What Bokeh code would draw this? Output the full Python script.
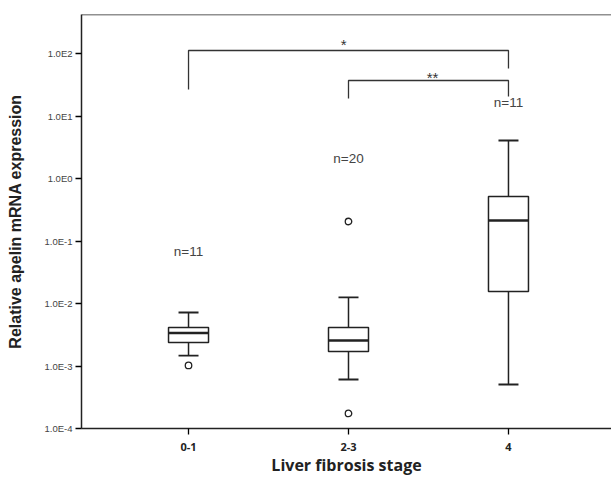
from bokeh.plotting import figure
from bokeh.models import FixedTicker, Span, Range1d
from bokeh.core.properties import value
from bokeh.embed import file_html
from bokeh.resources import INLINE

# ---- data ----
stages = ["0-1", "2-3", "4"]
positions = [1, 2, 3]
q1 = [0.00238, 0.00171, 0.0156]
median = [0.00337, 0.00256, 0.213]
q3 = [0.00413, 0.00413, 0.515]
whisker_low = [0.00147, 0.000608, 0.000506]
whisker_high = [0.00718, 0.0125, 4.06]
outlier_x = [1, 2, 2]
outlier_y = [0.00102, 0.205, 0.000174]
n_labels = ["n=11", "n=20", "n=11"]
n_label_y = [0.068, 2.09, 16.4]
y_ticks = [1e-4, 1e-3, 1e-2, 1e-1, 1e0, 1e1, 1e2]
y_tick_labels = ["1.0E-4", "1.0E-3", "1.0E-2", "1.0E-1", "1.0E0", "1.0E1", "1.0E2"]

# significance brackets (annotation geometry)
br1 = dict(x0=1, x1=3, top=111.7, left_bottom=26.5, right_bottom=57.5, label="*", lx=1.97, ly=139)
br2 = dict(x0=2, x1=3, top=37.0, left_bottom=19.0, right_bottom=20.5, label="**", lx=2.525, ly=41.3)

Y_BOTTOM, Y_TOP = 1e-4, 421.0
BOX_HALF = 0.125
CAP_HALF = 0.0625

p = figure(width=611, height=479, y_axis_type="log",
           x_range=Range1d(0.331, 3.644), y_range=Range1d(Y_BOTTOM, Y_TOP),
           output_backend="svg", toolbar_location=None,
           min_border_left=81, min_border_right=0, min_border_top=14, min_border_bottom=51)
p.outline_line_color = None
p.xgrid.visible = False
p.ygrid.visible = False
p.background_fill_color = "white"
p.border_fill_color = "white"

# top border line
p.add_layout(Span(location=Y_TOP, dimension="width", line_color="#222222", line_width=1.5))

# boxes
lefts = [x - BOX_HALF for x in positions]
rights = [x + BOX_HALF for x in positions]
p.quad(left=lefts, right=rights, bottom=q1, top=q3, fill_color="white",
       line_color="#222222", line_width=1.5)
# whiskers
p.segment(x0=positions, y0=q3, x1=positions, y1=whisker_high, line_color="#222222", line_width=1.5)
p.segment(x0=positions, y0=q1, x1=positions, y1=whisker_low, line_color="#222222", line_width=1.5)
# caps
p.segment(x0=[x - CAP_HALF for x in positions], y0=whisker_high,
          x1=[x + CAP_HALF for x in positions], y1=whisker_high, line_color="#222222", line_width=1.8)
p.segment(x0=[x - CAP_HALF for x in positions], y0=whisker_low,
          x1=[x + CAP_HALF for x in positions], y1=whisker_low, line_color="#222222", line_width=1.8)
# medians
p.segment(x0=lefts, y0=median, x1=rights, y1=median, line_color="#222222", line_width=2.5)
# outliers
p.scatter(x=outlier_x, y=outlier_y, marker="circle", size=6.5, fill_color="white",
          line_color="#222222", line_width=1.3)

# n labels
p.text(x=positions, y=n_label_y, text=n_labels, text_align="center", text_baseline="middle",
       text_font=value("Liberation Sans"), text_font_size="13.5px", text_color="#444444")

# brackets
for b in (br1, br2):
    p.line(x=[b["x0"], b["x0"], b["x1"], b["x1"]],
           y=[b["left_bottom"], b["top"], b["top"], b["right_bottom"]],
           line_color="#333333", line_width=1.3)
    p.text(x=[b["lx"]], y=[b["ly"]], text=[b["label"]], text_align="center", text_baseline="middle",
           text_font=value("Liberation Sans"), text_font_size="15px", text_color="#333333")

# axes
xa = p.xaxis[0]
xa.ticker = FixedTicker(ticks=positions, minor_ticks=[])
xa.major_label_overrides = {x: s for x, s in zip(positions, stages)}
xa.axis_line_width = 1.5
xa.axis_line_color = "#222222"
xa.major_tick_in = 0
xa.major_tick_out = 6
xa.major_tick_line_width = 1.3
xa.minor_tick_line_color = None
xa.major_label_text_font = "Open Sans"
xa.major_label_text_font_style = "bold"
xa.major_label_text_font_size = "11px"
xa.major_label_text_color = "#222222"
xa.major_label_standoff = 8
xa.axis_label = "Liver fibrosis stage"
xa.axis_label_text_font = "Open Sans"
xa.axis_label_text_font_style = "bold"
xa.axis_label_text_font_size = "16px"
xa.axis_label_text_color = "#222222"
xa.axis_label_standoff = 0

ya = p.yaxis[0]
ya.ticker = FixedTicker(ticks=y_ticks, minor_ticks=[])
ya.major_label_overrides = {t: s for t, s in zip(y_ticks, y_tick_labels)}
ya.axis_line_width = 1.5
ya.axis_line_color = "#222222"
ya.major_tick_in = 0
ya.major_tick_out = 6
ya.major_tick_line_width = 1.3
ya.minor_tick_line_color = None
ya.major_label_text_font = "Liberation Sans"
ya.major_label_text_font_size = "9.5px"
ya.major_label_text_color = "#444444"
ya.major_label_standoff = 3
ya.axis_label = "Relative apelin mRNA expression"
ya.axis_label_text_font = "Liberation Sans"
ya.axis_label_text_font_style = "bold"
ya.axis_label_text_font_size = "16px"
ya.axis_label_text_color = "#222222"
ya.axis_label_standoff = 18

open("out.html", "w").write(file_html(p, INLINE))
